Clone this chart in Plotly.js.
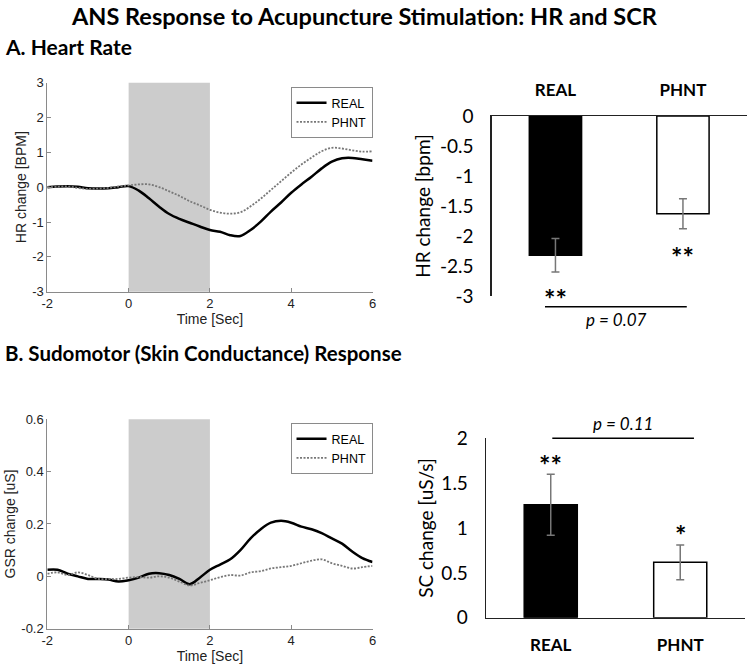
<!DOCTYPE html>
<html>
<head>
<meta charset="utf-8">
<script src="https://cdn.plot.ly/plotly-3.0.1.min.js"></script>
<style>
html,body{margin:0;padding:0;background:#fff;}
#chart{width:750px;height:664px;}
</style>
</head>
<body>
<div id="chart"></div>
<script>
// ---------- data ----------
const timeSec = [-2,-1.75,-1.5,-1.25,-1,-0.75,-0.5,-0.25,0,0.25,0.5,0.75,1,1.25,1.5,1.75,2,2.25,2.5,2.75,3,3.25,3.5,3.75,4,4.25,4.5,4.75,5,5.25,5.5,5.75,6];
const hrReal = [0,0.02,0.03,0.01,-0.03,-0.04,-0.03,0,0.03,-0.1,-0.32,-0.56,-0.77,-0.91,-1.02,-1.13,-1.23,-1.28,-1.38,-1.4,-1.23,-0.99,-0.7,-0.44,-0.16,0.08,0.3,0.54,0.73,0.83,0.84,0.8,0.76];
const hrPhnt = [0,0.01,0.02,-0.02,-0.05,-0.04,-0.02,0.02,0.05,0.08,0.08,0,-0.12,-0.25,-0.4,-0.52,-0.65,-0.73,-0.76,-0.72,-0.55,-0.33,-0.08,0.17,0.42,0.65,0.85,1.03,1.13,1.11,1.06,1.02,1.03];
const gsrReal = [0.025,0.025,0.01,0,-0.01,-0.01,-0.012,-0.02,-0.015,-0.005,0.01,0.012,0.005,-0.01,-0.03,-0.005,0.025,0.045,0.065,0.1,0.145,0.18,0.205,0.212,0.205,0.19,0.18,0.165,0.145,0.125,0.095,0.07,0.055];
const gsrPhnt = [0.01,0.015,0.005,0.015,0.005,-0.01,-0.01,-0.01,-0.005,-0.003,-0.005,0,-0.005,-0.02,-0.035,-0.025,-0.015,-0.003,0.005,0.003,0.015,0.02,0.03,0.035,0.04,0.05,0.06,0.065,0.05,0.04,0.03,0.035,0.04];
const stimWindow = [0, 2];

const timeTicks = [-2,0,2,4,6];
const hrTicks = [-3,-2,-1,0,1,2,3];
const gsrTicks = [-0.2,0,0.2,0.4,0.6];

const groups = ['REAL','PHNT'];
const hrChange = [-2.32,-1.63];
const hrErr = [0.28,0.25];
const hrStars = ['**','**'];
const hrBarTicks = [0,-0.5,-1,-1.5,-2,-2.5,-3];
const scChange = [1.26,0.617];
const scErr = [0.34,0.195];
const scStars = ['**','*'];
const scBarTicks = [0,0.5,1,1.5,2];
const hrPText = 'p = 0.07';
const scPText = 'p = 0.11';

// ---------- styling ----------
const arial = 'Liberation Sans, Arial, sans-serif';
const cal = 'Lato, Open Sans, sans-serif';
const lbl = v => String(v);  // plain hyphen-minus like the original
const lineAxis = {showline:true, linecolor:'#8a8a8a', linewidth:1, ticks:'inside', ticklen:4, tickcolor:'#8a8a8a',
  showgrid:false, zeroline:false, tickfont:{family:arial, size:13, color:'#222'}, mirror:false};

const realLine = {color:'#000', width:2.5, shape:'spline'};
const phntLine = {color:'#777', width:1.8, dash:'2px,1.5px', shape:'spline'};

const traces = [
  {x:timeSec, y:hrReal, xaxis:'x', yaxis:'y', mode:'lines', name:'REAL', line:realLine, legend:'legend'},
  {x:timeSec, y:hrPhnt, xaxis:'x', yaxis:'y', mode:'lines', name:'PHNT', line:phntLine, legend:'legend'},
  {x:groups, y:hrChange, xaxis:'x2', yaxis:'y2', type:'bar', width:0.41, showlegend:false,
   marker:{color:['#000','#fff'], line:{color:'#000', width:1.5}},
   error_y:{type:'data', array:hrErr, visible:true, color:'#777', thickness:1.5, width:4}},
  {x:timeSec, y:gsrReal, xaxis:'x3', yaxis:'y3', mode:'lines', name:'REAL', line:realLine, legend:'legend2'},
  {x:timeSec, y:gsrPhnt, xaxis:'x3', yaxis:'y3', mode:'lines', name:'PHNT', line:phntLine, legend:'legend2'},
  {x:groups, y:scChange, xaxis:'x4', yaxis:'y4', type:'bar', width:0.41, showlegend:false,
   marker:{color:['#000','#fff'], line:{color:'#000', width:1.5}},
   error_y:{type:'data', array:scErr, visible:true, color:'#777', thickness:1.5, width:4}}
];

const legendStyle = {bgcolor:'#fff', bordercolor:'#8a8a8a', borderwidth:1, font:{family:arial, size:12.5, color:'#000'},
  xanchor:'right', yanchor:'top', tracegroupgap:0, itemwidth:30};

const annotations = [
  {text:'<b>ANS Response to Acupuncture Stimulation: HR and SCR</b>', xref:'paper', yref:'paper', x:0.486, y:1-16/664, xanchor:'center', yanchor:'middle', showarrow:false, font:{family:cal, size:23.5, color:'#000'}},
  {text:'<b>A. Heart Rate</b>', xref:'paper', yref:'paper', x:0.004, y:1-47/664, xanchor:'left', yanchor:'middle', showarrow:false, font:{family:cal, size:21, color:'#000'}},
  {text:'<b>B. Sudomotor (Skin Conductance) Response</b>', xref:'paper', yref:'paper', x:0.004, y:1-353/664, xanchor:'left', yanchor:'middle', showarrow:false, font:{family:cal, size:20.5, color:'#000'}},
  {text:'<i>'+hrPText+'</i>', xref:'x2 domain', yref:'y2 domain', x:0.4875, y:-0.133, xanchor:'center', yanchor:'middle', showarrow:false, font:{family:cal, size:17, color:'#000'}},
  {text:'<i>'+scPText+'</i>', xref:'x4 domain', yref:'y4 domain', x:0.528, y:1.085, xanchor:'center', yanchor:'middle', showarrow:false, font:{family:cal, size:17, color:'#000'}}
];
groups.forEach((g,i)=>{
  annotations.push({text:'<b>'+hrStars[i]+'</b>', xref:'x2', yref:'y2', x:g, y:hrChange[i]-hrErr[i], yshift:-(i===0?26:28), xanchor:'center', yanchor:'middle', showarrow:false, font:{family:cal, size:27, color:'#000'}});
  annotations.push({text:'<b>'+scStars[i]+'</b>', xref:'x4', yref:'y4', x:g, y:scChange[i]+scErr[i], yshift:10, xanchor:'center', yanchor:'middle', showarrow:false, font:{family:cal, size:27, color:'#000'}});
});

const shapes = [
  {type:'rect', xref:'x', yref:'y domain', x0:stimWindow[0], x1:stimWindow[1], y0:0, y1:1, fillcolor:'#cccccc', line:{width:0}, layer:'below'},
  {type:'rect', xref:'x3', yref:'y3 domain', x0:stimWindow[0], x1:stimWindow[1], y0:0, y1:1, fillcolor:'#cccccc', line:{width:0}, layer:'below'},
  {type:'line', xref:'x2 domain', yref:'y2 domain', x0:0.209, x1:0.765, y0:-0.059, y1:-0.059, line:{color:'#000', width:1.5}},
  {type:'line', xref:'x4 domain', yref:'y4 domain', x0:0.256, x1:0.803, y0:1.0, y1:1.0, line:{color:'#000', width:1.5}}
];

const layout = {
  width:750, height:664, margin:{l:0,r:0,t:0,b:0}, paper_bgcolor:'#fff', plot_bgcolor:'rgba(0,0,0,0)',
  showlegend:true,
  xaxis:Object.assign({}, lineAxis, {domain:[0.0631,0.4967], range:[-2,6], tickvals:timeTicks, ticktext:timeTicks.map(lbl), anchor:'y',
    title:{text:'Time [Sec]', font:{family:arial, size:14, color:'#222'}, standoff:0}}),
  yaxis:Object.assign({}, lineAxis, {domain:[0.5607,0.8755], range:[-3,3], tickvals:hrTicks, ticktext:hrTicks.map(lbl), anchor:'x',
    title:{text:'HR change [BPM]', font:{family:arial, size:14, color:'#222'}, standoff:2}}),
  xaxis2:{domain:[0.6556,0.9956], range:[-0.5,1.5], anchor:'y2', side:'top', showline:true, linecolor:'#222', linewidth:1.3,
    ticks:'', showgrid:false, zeroline:false, tickfont:{family:cal, size:17, color:'#000'}, ticktext:groups.map(g=>'<b>'+g+'</b>'), tickvals:groups, ticklabelstandoff:12},
  yaxis2:{domain:[0.5542,0.8253], range:[-3,0], tickvals:hrBarTicks, ticktext:hrBarTicks.map(lbl), anchor:'x2', showline:true, linecolor:'#222', linewidth:1.3,
    ticks:'', showgrid:false, zeroline:false, tickfont:{family:cal, size:19, color:'#000'}, ticklabelstandoff:13,
    title:{text:'HR change [bpm]', font:{family:cal, size:19, color:'#000'}, standoff:4}},
  xaxis3:Object.assign({}, lineAxis, {domain:[0.0631,0.4967], range:[-2,6], tickvals:timeTicks, ticktext:timeTicks.map(lbl), anchor:'y3',
    title:{text:'Time [Sec]', font:{family:arial, size:14, color:'#222'}, standoff:0}}),
  yaxis3:Object.assign({}, lineAxis, {domain:[0.0532,0.3685], range:[-0.2,0.6], tickvals:gsrTicks, ticktext:gsrTicks.map(lbl), anchor:'x3',
    title:{text:'GSR change [uS]', font:{family:arial, size:14, color:'#222'}, standoff:2}}),
  xaxis4:{domain:[0.648,0.9933], range:[-0.5,1.5], anchor:'y4', showline:true, linecolor:'#222', linewidth:1.3,
    ticks:'', showgrid:false, zeroline:false, tickfont:{family:cal, size:17, color:'#000'}, ticktext:groups.map(g=>'<b>'+g+'</b>'), tickvals:groups, ticklabelstandoff:12},
  yaxis4:{domain:[0.0697,0.3399], range:[0,2], anchor:'x4', showline:true, linecolor:'#222', linewidth:1.3,
    ticks:'', showgrid:false, zeroline:false, tickfont:{family:cal, size:19, color:'#000'}, ticklabelstandoff:13,
    tickvals:scBarTicks, ticktext:scBarTicks.map(lbl),
    title:{text:'SC change [uS/s]', font:{family:cal, size:19, color:'#000'}, standoff:2}},
  legend:Object.assign({}, legendStyle, {x:0.4967, y:1-87/664}),
  legend2:Object.assign({}, legendStyle, {x:0.4967, y:1-423/664}),
  annotations:annotations,
  shapes:shapes
};

Plotly.newPlot('chart', traces, layout, {displayModeBar:false, staticPlot:true});
</script>
</body>
</html>
